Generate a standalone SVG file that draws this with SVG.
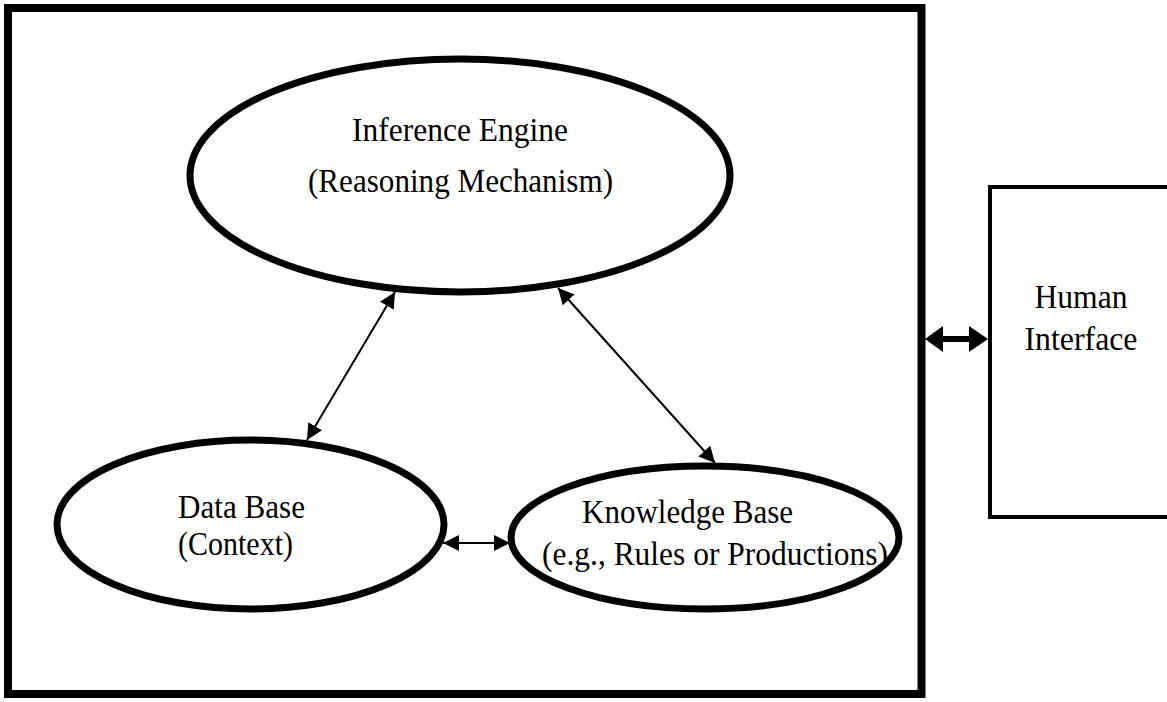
<svg xmlns="http://www.w3.org/2000/svg" width="1167" height="702" viewBox="0 0 1167 702">
<style>
.t{font-family:"Liberation Serif","Times New Roman",serif;font-size:33px;fill:#000}
.ell{fill:#fff;stroke:#000;stroke-width:7}
.con{stroke:#000;stroke-width:2;fill:none}
</style>
<defs>
<marker id="ah" viewBox="0 0 16 16" refX="16" refY="8" markerWidth="16" markerHeight="16" markerUnits="userSpaceOnUse" orient="auto-start-reverse">
<path d="M0,0 L16,8 L0,16 Z" fill="#000"/>
</marker>
</defs>
<rect width="1167" height="702" fill="#fff"/>
<g id="system">
<rect x="8" y="8" width="913.5" height="686" fill="none" stroke="#000" stroke-width="8"/>
</g>
<g id="human-interface">
<rect x="990" y="187" width="200" height="330" fill="#fff" stroke="#000" stroke-width="4"/>
<text class="t" x="1081" y="308" text-anchor="middle" textLength="93" lengthAdjust="spacingAndGlyphs">Human</text>
<text class="t" x="1081" y="350" text-anchor="middle" textLength="113" lengthAdjust="spacingAndGlyphs">Interface</text>
</g>
<g id="inference-engine">
<ellipse class="ell" cx="460" cy="175.5" rx="270" ry="116.5"/>
<text class="t" x="352" y="141" textLength="216" lengthAdjust="spacingAndGlyphs">Inference Engine</text>
<text class="t" x="308" y="192" textLength="305" lengthAdjust="spacingAndGlyphs">(Reasoning Mechanism)</text>
</g>
<g id="data-base">
<ellipse class="ell" cx="250.5" cy="524.5" rx="193.5" ry="84.5"/>
<text class="t" x="178" y="518" textLength="127" lengthAdjust="spacingAndGlyphs">Data Base</text>
<text class="t" x="178" y="555" textLength="115" lengthAdjust="spacingAndGlyphs">(Context)</text>
</g>
<g id="knowledge-base">
<ellipse class="ell" cx="705" cy="537.5" rx="194" ry="71.5"/>
<text class="t" x="582" y="523" textLength="211" lengthAdjust="spacingAndGlyphs">Knowledge Base</text>
<text class="t" x="542" y="565" textLength="346" lengthAdjust="spacingAndGlyphs">(e.g., Rules or Productions)</text>
</g>
<g id="connectors">
<line class="con" x1="395" y1="292" x2="307" y2="440" marker-start="url(#ah)" marker-end="url(#ah)"/>
<line class="con" x1="558" y1="288" x2="715" y2="463" marker-start="url(#ah)" marker-end="url(#ah)"/>
<line class="con" x1="443" y1="543" x2="510" y2="543" marker-start="url(#ah)" marker-end="url(#ah)"/>
<path d="M925,339 L943,326 L943,336 L969,336 L969,326 L988,339 L969,352 L969,342 L943,342 L943,352 Z" fill="#000"/>
</g>
</svg>
